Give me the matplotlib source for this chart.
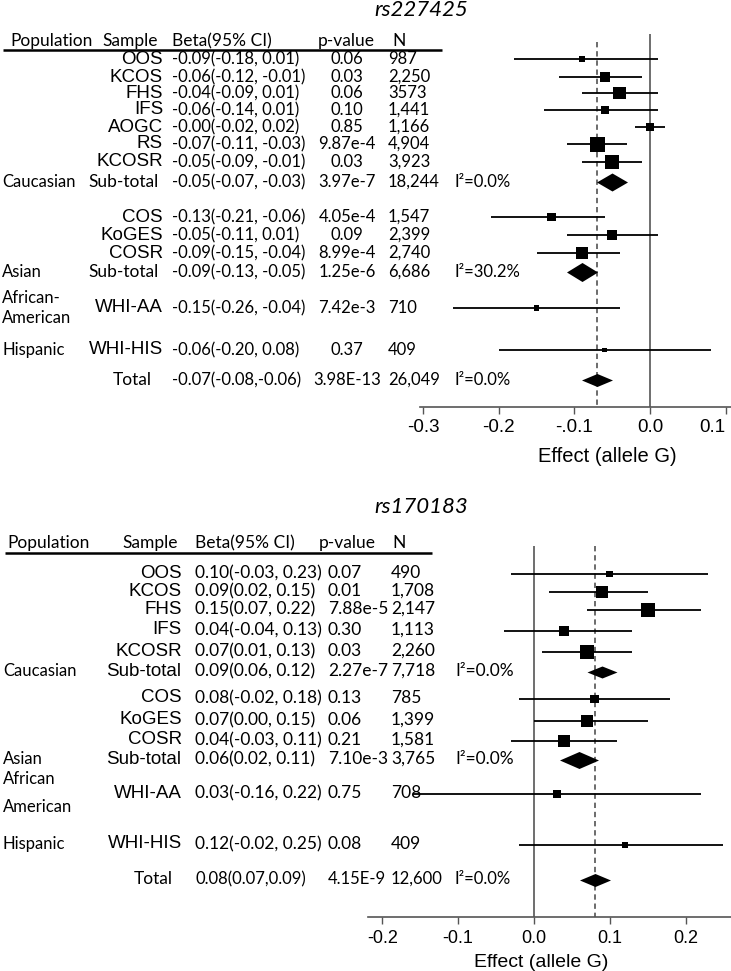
import numpy as np
import matplotlib
matplotlib.use("Agg")
import matplotlib.pyplot as plt

# ---------------- rs227425 ----------------
samples1 = ["OOS", "KCOS", "FHS", "IFS", "AOGC", "RS", "KCOSR", "Sub-total",
            "COS", "KoGES", "COSR", "Sub-total", "WHI-AA", "WHI-HIS", "Total"]
kinds1 = ["s"] * 7 + ["sub"] + ["s"] * 3 + ["sub", "s", "s", "tot"]
pops1 = [""] * 7 + ["Caucasian"] + [""] * 3 + ["Asian", "African-\nAmerican", "Hispanic", ""]
beta1 = [-0.09, -0.06, -0.04, -0.06, -0.00, -0.07, -0.05, -0.05,
         -0.13, -0.05, -0.09, -0.09, -0.15, -0.06, -0.07]
lo1 = [-0.18, -0.12, -0.09, -0.14, -0.02, -0.11, -0.09, -0.07,
       -0.21, -0.11, -0.15, -0.13, -0.26, -0.20, -0.08]
hi1 = [0.01, -0.01, 0.01, 0.01, 0.02, -0.03, -0.01, -0.03,
       -0.06, 0.01, -0.04, -0.05, -0.04, 0.08, -0.06]
pval1 = ["0.06", "0.03", "0.06", "0.10", "0.85", "9.87e-4", "0.03", "3.97e-7",
         "4.05e-4", "0.09", "8.99e-4", "1.25e-6", "7.42e-3", "0.37", "3.98E-13"]
n1 = ["987", "2,250", "3573", "1,441", "1,166", "4,904", "3,923", "18,244",
      "1,547", "2,399", "2,740", "6,686", "710", "409", "26,049"]
i2_1 = [""] * 7 + ["I²=0.0%"] + [""] * 3 + ["I²=30.2%", "", "", "I²=0.0%"]
ticks1 = [-0.3, -0.2, -0.1, 0.0, 0.1]
ticklabels1 = ["-0.3", "-0.2", "-.0.1", "0.0", "0.1"]

# ---------------- rs170183 ----------------
samples2 = ["OOS", "KCOS", "FHS", "IFS", "KCOSR", "Sub-total",
            "COS", "KoGES", "COSR", "Sub-total", "WHI-AA", "WHI-HIS", "Total"]
kinds2 = ["s"] * 5 + ["sub"] + ["s"] * 3 + ["sub", "s", "s", "tot"]
pops2 = [""] * 5 + ["Caucasian"] + [""] * 3 + ["Asian", "African\nAmerican", "Hispanic", ""]
beta2 = [0.10, 0.09, 0.15, 0.04, 0.07, 0.09, 0.08, 0.07, 0.04, 0.06, 0.03, 0.12, 0.08]
lo2 = [-0.03, 0.02, 0.07, -0.04, 0.01, 0.06, -0.02, 0.00, -0.03, 0.02, -0.16, -0.02, 0.07]
hi2 = [0.23, 0.15, 0.22, 0.13, 0.13, 0.12, 0.18, 0.15, 0.11, 0.11, 0.22, 0.25, 0.09]
pval2 = ["0.07", "0.01", "7.88e-5", "0.30", "0.03", "2.27e-7", "0.13", "0.06",
         "0.21", "7.10e-3", "0.75", "0.08", "4.15E-9"]
n2 = ["490", "1,708", "2,147", "1,113", "2,260", "7,718", "785", "1,399",
      "1,581", "3,765", "708", "409", "12,600"]
i2_2 = [""] * 5 + ["I²=0.0%"] + [""] * 3 + ["I²=0.0%", "", "", "I²=0.0%"]
ticks2 = [-0.2, -0.1, 0.0, 0.1, 0.2]
ticklabels2 = ["-0.2", "-0.1", "0.0", "0.1", "0.2"]

headers = ["Population", "Sample", "Beta(95% CI)", "p-value", "N"]

# fonts
NUM = ["Lato", "DejaVu Sans"]                 # calibri-ish
ARI = ["Liberation Sans", "DejaVu Sans"]      # arial-ish

W, H = 731, 971
fig = plt.figure(figsize=(W / 100, H / 100), dpi=100)
fig.patch.set_facecolor("white")

# overlay axes in pixel coords for the table text
tax = fig.add_axes([0, 0, 1, 1])
tax.set_xlim(0, W)
tax.set_ylim(H, 0)
tax.axis("off")


def forest_axes(x_left, y_top, y_axis, xlim):
    ax = fig.add_axes([x_left / W, 1 - y_axis / H, (W - x_left) / W, (y_axis - y_top) / H])
    ax.set_xlim(*xlim)
    ax.set_ylim(y_axis, y_top)
    ax.set_facecolor("none")
    for s in ["top", "left", "right"]:
        ax.spines[s].set_visible(False)
    ax.spines["bottom"].set_color("#555555")
    ax.spines["bottom"].set_linewidth(1.2)
    ax.yaxis.set_visible(False)
    ax.tick_params(axis="x", direction="out", length=5, width=1, color="#555555", pad=4)
    return ax


def draw_panel(ax, ys, samples, kinds, pops, beta, lo, hi, pvals, ns, i2, lay):
    nn = np.array([int(v.replace(",", "")) for v in ns])
    study = np.array([k == "s" for k in kinds])
    nmax = nn[study].max()
    ys = np.array(ys)
    beta = np.array(beta)

    # CI lines + squares for single studies
    ax.hlines(ys[study], np.array(lo)[study], np.array(hi)[study], color="black", lw=1.3, zorder=3)
    side = lay["sq"] * np.sqrt(nn[study] / nmax)
    ax.scatter(beta[study], ys[study], s=(side * 0.72) ** 2, marker="s", color="black",
               linewidths=0, zorder=4)

    # diamonds for pooled estimates
    di = 0
    for j, k in enumerate(kinds):
        if k == "s":
            continue
        w, h = lay["diam"][di]
        di += 1
        r = h / w
        ax.scatter([beta[j]], [ys[j]], s=(w * 0.72) ** 2, color="black", linewidths=0,
                   marker=[(-1, 0), (0, r), (1, 0), (0, -r), (-1, 0)], zorder=4)

    # reference lines
    ax.vlines(0, lay["zero_top"], ax.get_ylim()[0], color="#555555", lw=1.2, zorder=2)
    ax.vlines(beta[-1], lay["dash_top"], ax.get_ylim()[0], color="#444444", lw=1.1,
              linestyles=(0, (3.5, 2.5)), zorder=2)

    # table text
    for j in range(len(samples)):
        y = ys[j] + lay["dy"]
        k = kinds[j]
        fs = lay["fs"]
        if k == "s":
            tax.text(lay["samp_x"], y, samples[j], ha="right", va="center",
                     family=ARI, fontsize=lay["fs_samp"])
        elif k == "sub":
            tax.text(lay["sub_x"], y, samples[j], ha="right", va="center",
                     family=lay["sub_font"], fontsize=lay["fs_sub"])
        else:
            fs = lay["fs_totrow"]
            tax.text(lay["tot_x"], y, samples[j], ha="right", va="center",
                     family=NUM, fontsize=lay["fs_tot"])
        sep = "," if k == "tot" else ", "
        ci = "{:.2f}({:.2f}{}{:.2f})".format(beta[j], lo[j], sep, hi[j])
        tax.text(lay["beta_x"], y, ci, ha="left", va="center", family=NUM, fontsize=fs)
        tax.text(lay["p_x"], y, pvals[j], ha=lay["p_ha"], va="center", family=NUM, fontsize=fs)
        tax.text(lay["n_x"], y, ns[j], ha="left", va="center", family=NUM, fontsize=fs)
        if i2[j]:
            tax.text(lay["i2_x"], y, i2[j], ha="left", va="center", family=NUM, fontsize=fs)
        if pops[j]:
            tax.text(lay["pop_x"], y, pops[j], ha="left", va="center", family=NUM,
                     fontsize=lay["fs_pop"], linespacing=lay["pop_ls"])

    # header
    for h, x in zip(headers, lay["head_x"]):
        tax.text(x, lay["head_y"], h, ha="left", va="baseline", family=NUM, fontsize=12.5)
    tax.hlines(lay["line_y"], lay["line_x"][0], lay["line_x"][1], color="black", lw=1.8)


# ---------------- top panel ----------------
rows1 = [59, 77, 93, 110, 127, 144, 162, 182, 217, 235, 253, 272, 308, 350, 380]
ax1 = forest_axes(420, 30, 407, (-0.304, 0.107))
lay1 = dict(sq=15, diam=[(31, 18), (31, 19), (31, 13)], zero_top=34, dash_top=42,
            fs=12, fs_totrow=12, fs_samp=13.5, fs_sub=12.5, fs_tot=12.5, fs_pop=12,
            pop_ls=1.3, sub_font=NUM, dy=0,
            samp_x=163, sub_x=159, tot_x=152, beta_x=172, p_x=347, p_ha="center", n_x=388,
            i2_x=454, pop_x=2, head_x=[10, 102, 172, 318, 392], head_y=46, line_y=50,
            line_x=(3, 442))
draw_panel(ax1, rows1, samples1, kinds1, pops1, beta1, lo1, hi1, pval1, n1, i2_1, lay1)
ax1.set_xticks(ticks1)
ax1.set_xticklabels(ticklabels1, family=ARI, fontsize=13.5)
ax1.get_xticklabels()[-1].set_horizontalalignment("right")
ax1.set_xlabel("Effect (allele G)", family=ARI, fontsize=14.5)
ax1.xaxis.set_label_coords((607 - 420) / (W - 420), -0.106)
tax.text(421, 10, "rs227425", ha="center", va="center", style="italic", family=NUM, fontsize=16)

# ---------------- bottom panel ----------------
rows2 = [574, 592, 610, 631, 652, 672, 699, 721, 741, 760, 794, 845, 880]
ax2 = forest_axes(368, 545, 917, (-0.219, 0.26))
lay2 = dict(sq=14.5, diam=[(30, 12), (39, 17), (31, 13)], zero_top=546, dash_top=546,
            fs=12.5, fs_totrow=12, fs_samp=13.5, fs_sub=13.5, fs_tot=12.5, fs_pop=12,
            pop_ls=1.9, sub_font=ARI, dy=-1,
            samp_x=182, sub_x=181, tot_x=173, beta_x=195, p_x=328, p_ha="left", n_x=391,
            i2_x=455, pop_x=3, head_x=[7, 122, 195, 319, 392], head_y=548, line_y=553,
            line_x=(5, 432))
draw_panel(ax2, rows2, samples2, kinds2, pops2, beta2, lo2, hi2, pval2, n2, i2_2, lay2)
ax2.set_xticks(ticks2)
ax2.set_xticklabels(ticklabels2, family=ARI, fontsize=13)
ax2.set_xlabel("Effect (allele G)", family=ARI, fontsize=14)
ax2.xaxis.set_label_coords((541 - 368) / (W - 368), -0.1)
tax.text(421, 507, "rs170183", ha="center", va="center", style="italic", family=NUM, fontsize=16)

fig.savefig("out.png", dpi=100, facecolor="white")
